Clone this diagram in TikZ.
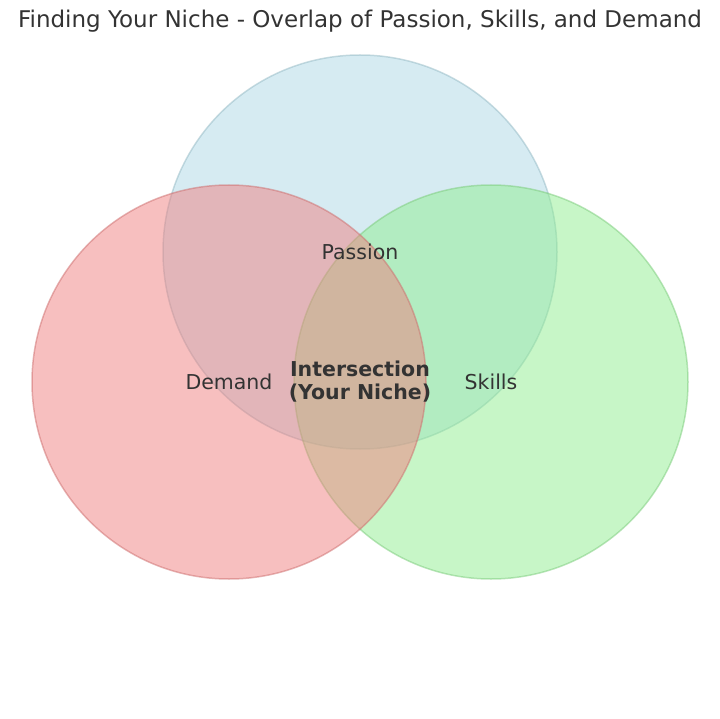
\documentclass[tikz,border=0pt]{standalone}
\usepackage{fontspec}
\setmainfont{DejaVu Sans}
\definecolor{passionc}{RGB}{173,216,230}
\definecolor{demandc}{RGB}{240,128,128}
\definecolor{skillsc}{RGB}{144,238,144}
\definecolor{textc}{RGB}{51,51,51}
\begin{document}
\begin{tikzpicture}
[
    x=1pt, y=-1pt,
    setcircle/.style = {circle,
                        minimum size=394pt,
                        inner sep=0pt,
                        opacity=0.5,
                        line width=1.5pt},
    setlabel/.style  = {font=\fontsize{20.5}{24}\selectfont,
                        text=textc}
]
\useasboundingbox (0,0) rectangle (720,719);

\node (title) [font=\fontsize{23}{27}\selectfont, text=textc] at (360,21)
{Finding Your Niche - Overlap of Passion, Skills, and Demand};

\node (passion) [setcircle, fill=passionc, draw=passionc!85!black] at (360,252) {};
\node (skills) [setcircle, fill=skillsc, draw=skillsc!85!black] at (491,382) {};
\node (demand) [setcircle, fill=demandc, draw=demandc!85!black] at (229,382) {};

\node (passionlabel) [setlabel] at (360,252) {Passion};
\node (demandlabel) [setlabel] at (229,382) {Demand};
\node (skillslabel) [setlabel] at (491,382) {Skills};
\node (niche) [setlabel, font=\fontsize{20.5}{23}\selectfont\bfseries, align=center] at (360,382)
{Intersection\\(Your Niche)};

\end{tikzpicture}
\end{document}
